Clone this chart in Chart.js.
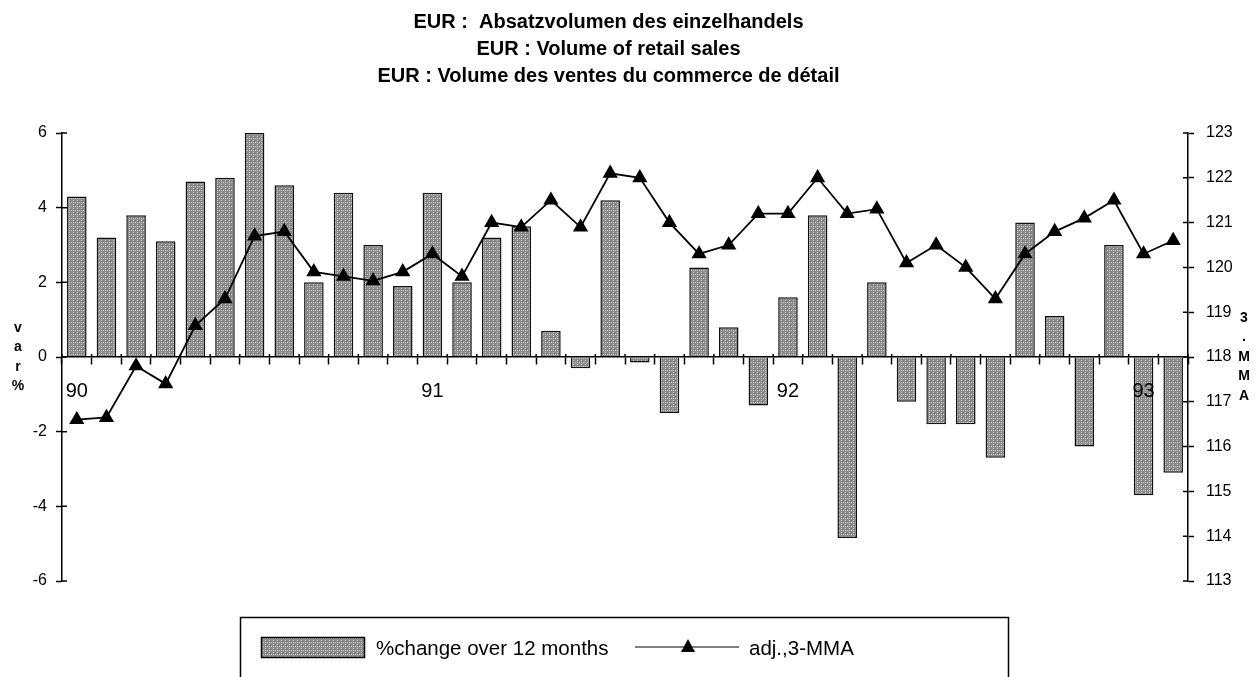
<!DOCTYPE html>
<html>
<head>
<meta charset="utf-8">
<title>EUR : Volume of retail sales</title>
<script src="https://cdn.jsdelivr.net/npm/chart.js@4.4.1/dist/chart.umd.min.js"></script>
<style>
  html, body { margin: 0; padding: 0; background: #fff; }
  #wrap { width: 1258px; height: 677px; }
</style>
</head>
<body>
<div id="wrap"><canvas id="chart" width="1258" height="677"></canvas></div>
<script>
// months Jan 90 .. Feb 93
const categories = [
  '90-01','90-02','90-03','90-04','90-05','90-06','90-07','90-08','90-09','90-10','90-11','90-12',
  '91-01','91-02','91-03','91-04','91-05','91-06','91-07','91-08','91-09','91-10','91-11','91-12',
  '92-01','92-02','92-03','92-04','92-05','92-06','92-07','92-08','92-09','92-10','92-11','92-12',
  '93-01','93-02'
];
const yearTicks = ['90', '91', '92', '93'];

// % change over 12 months (left axis)
const changeOver12 = [
  4.3, 3.2, 3.8, 3.1, 4.7, 4.8, 6.0, 4.6, 2.0, 4.4, 3.0, 1.9,
  4.4, 2.0, 3.2, 3.5, 0.7, -0.3, 4.2, -0.15, -1.5, 2.4, 0.8, -1.3,
  1.6, 3.8, -4.85, 2.0, -1.2, -1.8, -1.8, -2.7, 3.6, 1.1, -2.4, 3.0,
  -3.7, -3.1
];

// adj., 3 month moving average (right axis)
const mma3 = [
  116.6, 116.65, 117.8, 117.4, 118.7, 119.3, 120.7, 120.8, 119.9, 119.8, 119.7, 119.9,
  120.3, 119.8, 121.0, 120.9, 121.5, 120.9, 122.1, 122.0, 121.0, 120.3, 120.5, 121.2,
  121.2, 122.0, 121.2, 121.3, 120.1, 120.5, 120.0, 119.3, 120.3, 120.8, 121.1, 121.5,
  120.3, 120.6
];

const titleLines = [
  'EUR :  Absatzvolumen des einzelhandels',
  'EUR : Volume of retail sales',
  'EUR : Volume des ventes du commerce de détail'
];
const legendBar = '%change over 12 months';
const legendLine = 'adj.,3-MMA';
const leftTitle = ['v', 'a', 'r', '%'];
const rightTitle = ['3', '.', 'M', 'M', 'A'];

const FONT = "'Liberation Sans', Arial, sans-serif";

// stippled grey like the scanned bars
function makePattern(ctx) {
  const c = document.createElement('canvas');
  c.width = 4; c.height = 4;
  const p = c.getContext('2d');
  p.fillStyle = '#8c8c8c';
  p.fillRect(0, 0, 4, 4);
  p.fillStyle = '#c6c6c6';
  p.fillRect(1, 0, 1, 1);
  p.fillRect(3, 2, 1, 1);
  p.fillRect(1, 2, 1, 1);
  p.fillStyle = '#707070';
  p.fillRect(2, 1, 1, 1);
  return ctx.createPattern(c, 'repeat');
}

const ctx = document.getElementById('chart').getContext('2d');
const barFill = makePattern(ctx);

// little tick marks that cross the axis lines
const crossTicks = {
  id: 'crossTicks',
  afterDraw(chart) {
    const { ctx, chartArea, scales } = chart;
    ctx.save();
    ctx.strokeStyle = '#000';
    ctx.lineWidth = 1.5;
    ctx.beginPath();
    scales.y.ticks.forEach((t, i) => {
      const py = scales.y.getPixelForTick(i);
      ctx.moveTo(chartArea.left, py); ctx.lineTo(chartArea.left + 5, py);
    });
    scales.y1.ticks.forEach((t, i) => {
      const py = scales.y1.getPixelForTick(i);
      ctx.moveTo(chartArea.right, py); ctx.lineTo(chartArea.right - 5, py);
    });
    const y0 = scales.y.getPixelForValue(0);
    for (let i = 0; i <= categories.length; i++) {
      const px = scales.x.getPixelForValue(i - 0.5);
      ctx.moveTo(px, y0); ctx.lineTo(px, y0 - 3);
    }
    ctx.stroke();
    ctx.restore();
  }
};

// title, stacked axis letters + framed legend
const extras = {
  id: 'extras',
  afterDraw(chart) {
    const { ctx } = chart;
    ctx.save();
    ctx.fillStyle = '#000';
    ctx.textAlign = 'center';
    ctx.textBaseline = 'middle';
    ctx.font = 'bold 20px ' + FONT;
    titleLines.forEach((t, i) => ctx.fillText(t, 608.5, 22 + i * 27));

    ctx.font = 'bold 14px ' + FONT;
    leftTitle.forEach((ch, i) => ctx.fillText(ch, 18, 328 + i * 19.5));
    rightTitle.forEach((ch, i) => ctx.fillText(ch, 1244, 318 + i * 19.5));

    // legend
    ctx.strokeStyle = '#000';
    ctx.lineWidth = 1.5;
    ctx.strokeRect(240.5, 617.5, 768, 90);
    ctx.fillStyle = barFill;
    ctx.fillRect(261, 637, 104, 21);
    ctx.strokeRect(261.5, 637.5, 103, 20);
    ctx.fillStyle = '#000';
    ctx.font = '20.5px ' + FONT;
    ctx.textAlign = 'left';
    ctx.fillText(legendBar, 376, 649);
    ctx.lineWidth = 1.2;
    ctx.beginPath();
    ctx.moveTo(635, 647); ctx.lineTo(739, 647);
    ctx.stroke();
    ctx.beginPath();
    ctx.moveTo(688, 639); ctx.lineTo(695, 652); ctx.lineTo(681, 652);
    ctx.closePath();
    ctx.fill();
    ctx.fillText(legendLine, 749, 649);
    ctx.restore();
  }
};

new Chart(ctx, {
  type: 'bar',
  data: {
    labels: categories,
    datasets: [
      {
        type: 'line',
        label: legendLine,
        data: mma3,
        yAxisID: 'y1',
        borderColor: '#000',
        borderWidth: 1.8,
        backgroundColor: '#000',
        pointStyle: 'triangle',
        pointRadius: 7,
        pointBackgroundColor: '#000',
        pointBorderColor: '#000',
        tension: 0,
        order: 0
      },
      {
        type: 'bar',
        label: legendBar,
        data: changeOver12,
        yAxisID: 'y',
        backgroundColor: barFill,
        borderColor: '#111',
        borderWidth: 1.5,
        barPercentage: 0.66,
        categoryPercentage: 1,
        order: 1
      }
    ]
  },
  options: {
    responsive: false,
    animation: false,
    layout: { padding: { left: 0, right: 0, top: 133, bottom: 96 } },
    plugins: {
      legend: { display: false },
      tooltip: { enabled: false },
      title: { display: false }
    },
    scales: {
      x: {
        position: { y: 0 },
        offset: true,
        grid: {
          offset: true,
          drawOnChartArea: false,
          tickLength: 7,
          tickWidth: 1.5,
          tickColor: '#000'
        },
        border: { display: true, color: '#000', width: 1.5, z: 1 },
        ticks: {
          z: 1,
          autoSkip: false,
          maxRotation: 0,
          padding: 15,
          color: '#000',
          font: { family: FONT, size: 20 },
          callback: (v, i) => (i % 12 === 0 ? yearTicks[i / 12] : '')
        }
      },
      y: {
        position: 'left',
        min: -6,
        max: 6,
        grid: { drawOnChartArea: false, tickLength: 6, tickWidth: 1.5, tickColor: '#000' },
        border: { display: true, color: '#000', width: 1.5 },
        ticks: { stepSize: 2, padding: 9, color: '#000', font: { family: FONT, size: 16 } },
        afterFit(scale) { scale.width = 62; }
      },
      y1: {
        position: 'right',
        min: 113,
        max: 123,
        grid: { drawOnChartArea: false, tickLength: 6, tickWidth: 1.5, tickColor: '#000' },
        border: { display: true, color: '#000', width: 1.5 },
        ticks: { stepSize: 1, padding: 12, color: '#000', font: { family: FONT, size: 16 } },
        afterFit(scale) { scale.width = 70; }
      }
    }
  },
  plugins: [crossTicks, extras]
});
</script>
</body>
</html>
